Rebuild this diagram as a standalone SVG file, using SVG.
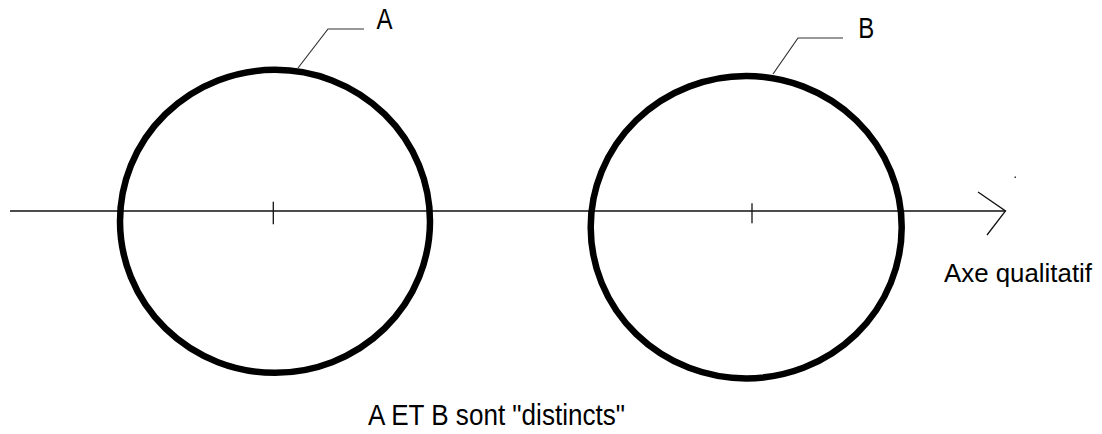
<svg xmlns="http://www.w3.org/2000/svg" width="1102" height="434" viewBox="0 0 1102 434">
<style>
.circ{fill:none;stroke:#000;stroke-width:6.5}
.ax{fill:none;stroke:#111;stroke-width:1.3}
.lead{fill:none;stroke:#333;stroke-width:1.2}
.t{font-family:"Liberation Sans",Arial,sans-serif;fill:#000}
</style>
<rect width="1102" height="434" fill="#fff"/>
<g id="connectors">
<line class="ax" x1="10" y1="211" x2="1005.5" y2="211"/>
<polyline class="ax" points="978,192 1005.5,211 987,235"/>
<rect x="1014.5" y="176.5" width="1.5" height="1.5" fill="#333"/>
<polyline class="lead" points="298,68 328,29 364,29"/>
<polyline class="lead" points="773,74 798,38 843,38"/>
</g>
<g id="nodeA">
<ellipse class="circ" cx="275" cy="221.3" rx="155" ry="151.5"/>
<line class="ax" x1="273.3" y1="201.7" x2="273.3" y2="224.3"/>
<text class="t" x="376.5" y="29.3" font-size="30" textLength="16" lengthAdjust="spacingAndGlyphs">A</text>
</g>
<g id="nodeB">
<ellipse class="circ" cx="746.2" cy="227.2" rx="155.5" ry="151.2"/>
<line class="ax" x1="752" y1="203.3" x2="752" y2="223.3"/>
<text class="t" x="858.3" y="37.7" font-size="29" textLength="16" lengthAdjust="spacingAndGlyphs">B</text>
</g>
<g id="labels">
<text class="t" x="944" y="281.7" font-size="26" textLength="148" lengthAdjust="spacingAndGlyphs">Axe qualitatif</text>
<text class="t" x="368" y="425" font-size="29" textLength="257" lengthAdjust="spacingAndGlyphs">A ET B sont "distincts"</text>
</g>
</svg>
